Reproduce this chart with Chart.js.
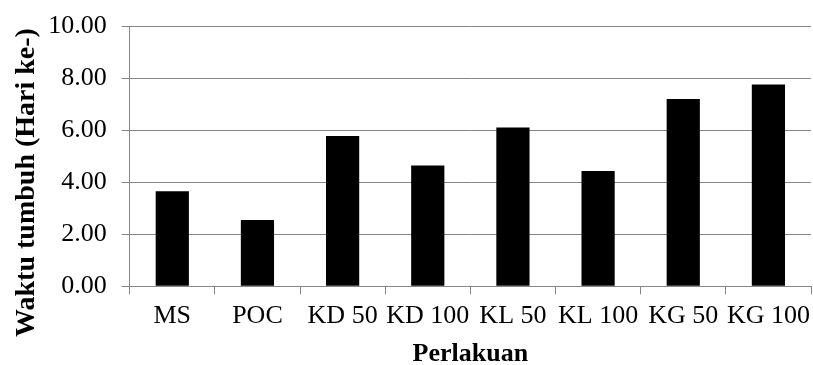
<!DOCTYPE html>
<html>
<head>
<meta charset="utf-8">
<script src="https://cdn.jsdelivr.net/npm/chart.js@4/dist/chart.umd.min.js"></script>
<style>
    html, body { margin: 0; padding: 0; background: #fff; }
    #wrap { width: 813px; height: 365px; }
</style>
</head>
<body>
<div id="wrap"><canvas id="chart" width="813" height="365"></canvas></div>
<script>
const categories = ["MS", "POC", "KD 50", "KD 100", "KL 50", "KL 100", "KG 50", "KG 100"];
const waktuTumbuh = [3.65, 2.55, 5.77, 4.64, 6.10, 4.43, 7.20, 7.75];
const yTicks = [0, 2, 4, 6, 8, 10];
const yTitle = "Waktu tumbuh (Hari ke-)";
const xTitle = "Perlakuan";

const gridColor = "#868686";
const fontFamily = "'Liberation Serif', 'Times New Roman', serif";

// y title is centred on the whole canvas in the original, not on the plot area
const yTitlePlugin = {
    id: "yTitle",
    afterDraw(chart) {
        const ctx = chart.ctx;
        ctx.save();
        ctx.translate(26.5, chart.height / 2);
        ctx.rotate(-Math.PI / 2);
        ctx.font = `bold 28px ${fontFamily}`;
        ctx.fillStyle = "#000";
        ctx.textAlign = "center";
        ctx.textBaseline = "middle";
        ctx.fillText(yTitle, 0, 0);
        ctx.restore();
    }
};

function noScalePadding(scale) {
    scale.paddingTop = 0;
    scale.paddingBottom = 0;
    scale.paddingLeft = 0;
    scale.paddingRight = 0;
}

new Chart(document.getElementById("chart").getContext("2d"), {
    type: "bar",
    data: {
        labels: categories,
        datasets: [{
            data: waktuTumbuh,
            backgroundColor: "#000",
            borderWidth: 0,
            categoryPercentage: 1,
            barPercentage: 0.39
        }]
    },
    options: {
        responsive: false,
        animation: false,
        layout: { padding: { top: 26, right: 2, bottom: 0, left: 0 } },
        plugins: { legend: { display: false }, tooltip: { enabled: false } },
        scales: {
            x: {
                grid: { display: true, drawOnChartArea: false, offset: true, tickLength: 8, color: gridColor },
                border: { color: gridColor },
                ticks: { color: "#000", padding: 6, maxRotation: 0, autoSkip: false, font: { family: fontFamily, size: 26 } },
                title: {
                    display: true,
                    text: xTitle,
                    color: "#000",
                    padding: { top: 0, bottom: 0 },
                    font: { family: fontFamily, size: 26, weight: "bold", lineHeight: 0.8 }
                },
                afterFit: scale => { scale.height = 78.7; noScalePadding(scale); }
            },
            y: {
                min: 0,
                max: 10,
                afterBuildTicks: scale => { scale.ticks = yTicks.map(v => ({ value: v })); },
                grid: { color: gridColor, tickLength: 8 },
                border: { color: gridColor },
                ticks: {
                    color: "#000",
                    padding: 15,
                    font: { family: fontFamily, size: 26 },
                    callback: v => Number(v).toFixed(2)
                },
                title: { display: false },
                afterFit: scale => { scale.width = 129.7; noScalePadding(scale); }
            }
        }
    },
    plugins: [yTitlePlugin]
});
</script>
</body>
</html>
